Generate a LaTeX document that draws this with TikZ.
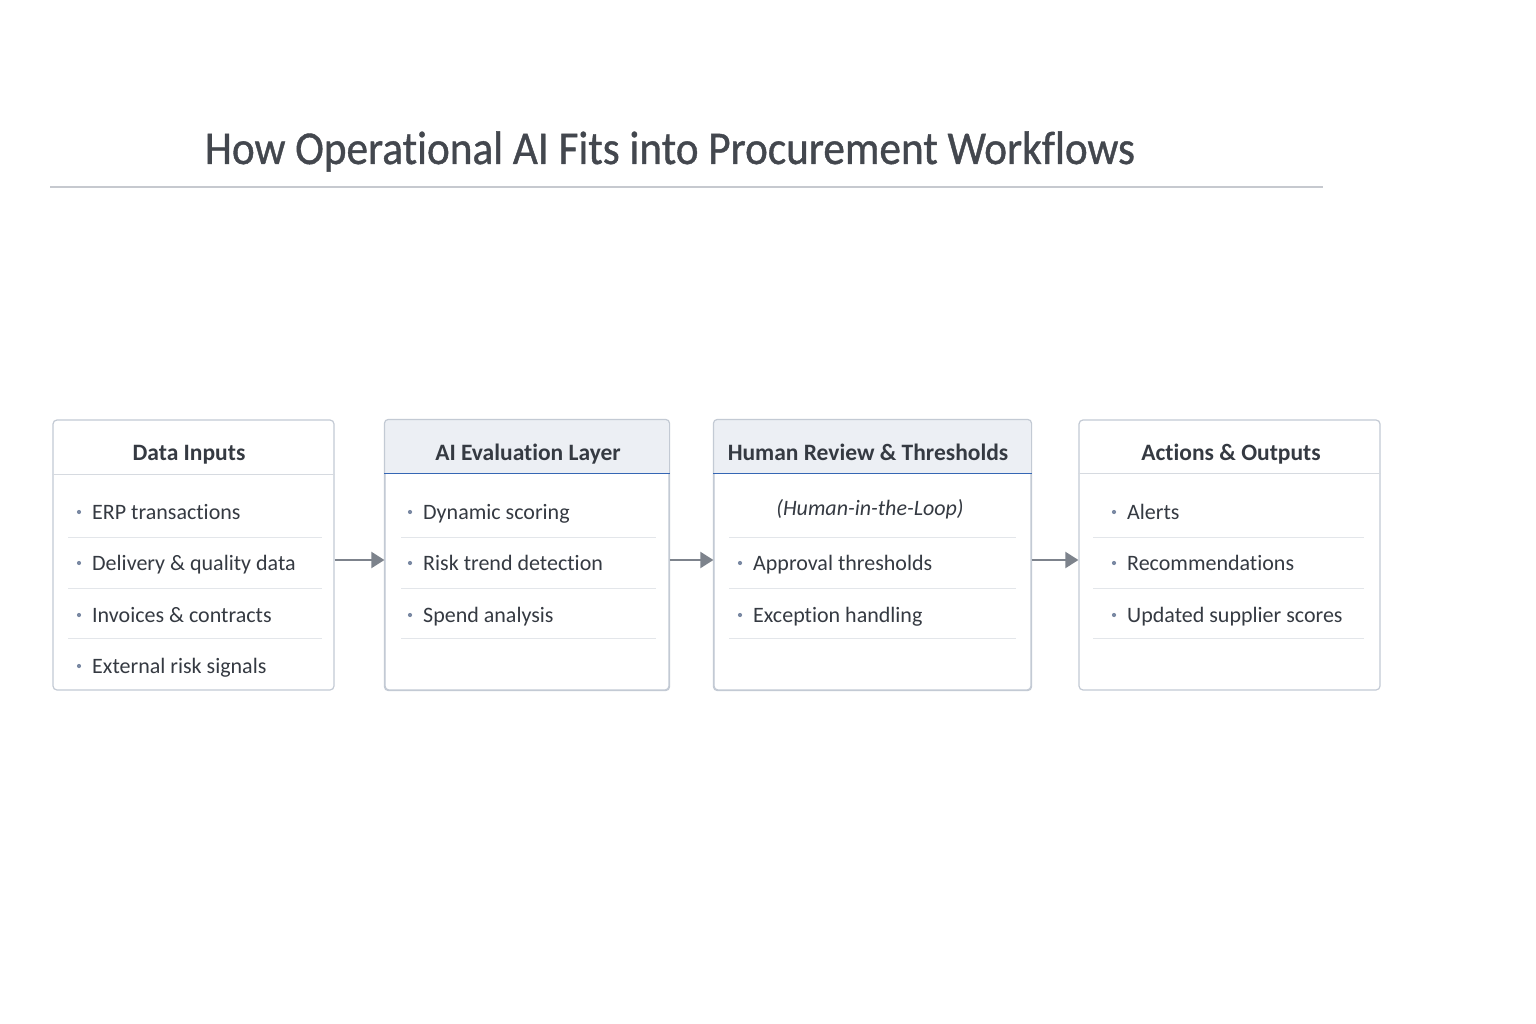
\documentclass[tikz,border=0pt]{standalone}
\usepackage{fontspec}
\setmainfont[Ligatures=NoCommon]{Carlito}
\newfontfamily\titlefont[FakeBold=0.9,Ligatures=NoCommon]{Carlito}
\usetikzlibrary{arrows.meta}
\definecolor{txt}{HTML}{353A42}
\definecolor{ttl}{HTML}{43474E}
\definecolor{bord}{HTML}{C3CAD4}
\definecolor{sep}{HTML}{E3E6EA}
\definecolor{hsep}{HTML}{D6DAE0}
\definecolor{hfill}{HTML}{ECEFF4}
\definecolor{hblue}{HTML}{3566B4}
\definecolor{arr}{HTML}{7D838C}
\definecolor{bul}{HTML}{7A89A3}
\definecolor{tline}{HTML}{C6C9CF}
\tikzset{
  panel/.style={draw=bord, line width=1.2pt, rounded corners=4pt, fill=white, inner sep=0pt},
  headtext/.style={font=\fontsize{23.5}{28}\selectfont\bfseries, text=txt, inner sep=0pt, anchor=base},
  itemtext/.style={font=\fontsize{22}{26}\selectfont, text=txt, anchor=base west, inner sep=0pt},
  subtext/.style={font=\fontsize{22}{26}\selectfont\itshape, text=txt, inner sep=0pt, anchor=base},
  sepline/.style={draw=sep, line width=1pt},
  hsepline/.style={draw=hsep, line width=1.1pt},
  bluesep/.style={draw=hblue, line width=1.8pt},
  flow/.style={draw=arr, line width=2pt, -{Triangle[length=13pt,width=16pt]}},
  dot/.style={circle, fill=bul, inner sep=0pt, minimum size=4.2pt},
}
\begin{document}
\begin{tikzpicture}[x=1pt, y=-1pt]
\useasboundingbox[fill=white] (0,0) rectangle (1536,1024);
% title
\node[font=\titlefont\fontsize{47}{54}\selectfont, text=ttl, inner sep=0pt, anchor=base, xscale=0.92] (title) at (670,164) {How Operational AI Fits into Procurement Workflows};
\coordinate (tl) at (50,187);
\coordinate (tr) at (1323,187);
\draw[draw=tline, line width=1.3pt] (tl) -- (tr);

% boxes
\node[panel, minimum width=281pt, minimum height=270pt] (b1) at (193.5,555) {};
\node[panel, minimum width=284pt, minimum height=270pt] (b2) at (527,555) {};
\node[panel, minimum width=317pt, minimum height=270pt] (b3) at (872.5,555) {};
\node[panel, minimum width=301pt, minimum height=270pt] (b4) at (1229.5,555) {};

% header fills for b2, b3
\foreach \b in {b2,b3}{
  \begin{scope}
    \clip[rounded corners=4pt] (\b.north west) rectangle (\b.south east);
    \fill[hfill] (\b.north west) rectangle ([yshift=-54pt]\b.north east);
  \end{scope}
  \draw[draw=bord, line width=1.2pt, rounded corners=4pt] (\b.north west) rectangle (\b.south east);
  \draw[bluesep] ([yshift=-54pt]\b.north west) -- ([yshift=-54pt]\b.north east);
}
\draw[hsepline] ([yshift=-55pt]b1.north west) -- ([yshift=-55pt]b1.north east);
\draw[hsepline] ([yshift=-54pt]b4.north west) -- ([yshift=-54pt]b4.north east);

% headers
\node[headtext] (h1) at (189,460) {Data Inputs};
\node[headtext] (h2) at (528,460) {AI Evaluation Layer};
\node[headtext] (h3) at (868,460) {Human Review \& Thresholds};
\node[headtext] (h4) at (1231,460) {Actions \& Outputs};

% row separators
\foreach \y in {537,588,638}{
  \draw[sepline] (68,\y) -- (322,\y);
  \draw[sepline] (401,\y) -- (656,\y);
  \draw[sepline] (729,\y) -- (1016,\y);
  \draw[sepline] (1093,\y) -- (1364,\y);
}

% box 1 items
\node[dot] (d11) at (79,512) {};
\node[itemtext] (i11) at (92,519) {ERP transactions};
\node[dot] (d12) at (79,563) {};
\node[itemtext] (i12) at (92,570) {Delivery \& quality data};
\node[dot] (d13) at (79,615) {};
\node[itemtext] (i13) at (92,622) {Invoices \& contracts};
\node[dot] (d14) at (79,666) {};
\node[itemtext] (i14) at (92,673) {External risk signals};

% box 2 items
\node[dot] (d21) at (410,512) {};
\node[itemtext] (i21) at (423,519) {Dynamic scoring};
\node[dot] (d22) at (410,563) {};
\node[itemtext] (i22) at (423,570) {Risk trend detection};
\node[dot] (d23) at (410,615) {};
\node[itemtext] (i23) at (423,622) {Spend analysis};

% box 3 items
\node[subtext] (s3) at (870,515) {(Human-in-the-Loop)};
\node[dot] (d31) at (740,563) {};
\node[itemtext] (i31) at (753,570) {Approval thresholds};
\node[dot] (d32) at (740,615) {};
\node[itemtext] (i32) at (753,622) {Exception handling};

% box 4 items
\node[dot] (d41) at (1114,512) {};
\node[itemtext] (i41) at (1127,519) {Alerts};
\node[dot] (d42) at (1114,563) {};
\node[itemtext] (i42) at (1127,570) {Recommendations};
\node[dot] (d43) at (1114,615) {};
\node[itemtext] (i43) at (1127,622) {Updated supplier scores};

% arrows
\draw[flow] ([yshift=-5pt]b1.east) -- ([yshift=-5pt]b2.west);
\draw[flow] ([yshift=-5pt]b2.east) -- ([yshift=-5pt]b3.west);
\draw[flow] ([yshift=-5pt]b3.east) -- ([yshift=-5pt]b4.west);
\end{tikzpicture}
\end{document}
